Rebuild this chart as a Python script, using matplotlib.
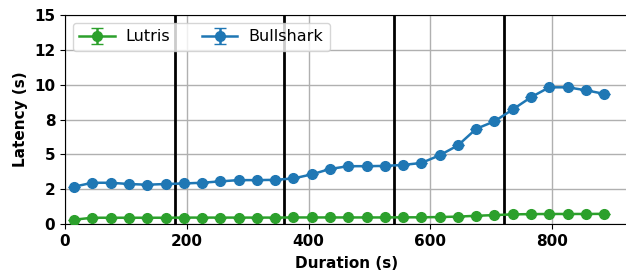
import matplotlib
matplotlib.use("Agg")
import matplotlib.pyplot as plt
from matplotlib.ticker import FormatStrFormatter

durations = [15, 45, 75, 105, 135, 165, 195, 225, 255, 285, 315, 345, 375, 405, 435,
             465, 495, 525, 555, 585, 615, 645, 675, 705, 735, 765, 795, 825, 855, 885]
lutris = [0.31, 0.45, 0.45, 0.45, 0.45, 0.45, 0.46, 0.46, 0.46, 0.46, 0.46, 0.46, 0.47, 0.47, 0.47,
          0.47, 0.47, 0.47, 0.48, 0.48, 0.50, 0.53, 0.59, 0.64, 0.69, 0.71, 0.72, 0.72, 0.72, 0.73]
bullshark = [2.68, 2.96, 2.96, 2.87, 2.82, 2.87, 2.91, 2.96, 3.06, 3.15, 3.15, 3.17, 3.27, 3.56, 3.95,
             4.15, 4.15, 4.17, 4.24, 4.38, 4.93, 5.64, 6.83, 7.37, 8.22, 9.10, 9.81, 9.81, 9.60, 9.34]
lutris_err = [0.0, 0.0, 0.0, 0.0, 0.0, 0.0, 0.0, 0.0, 0.0, 0.0, 0.0, 0.0, 0.0, 0.0, 0.0,
              0.0, 0.0, 0.0, 0.0, 0.0, 0.0, 0.0, 0.0, 0.0, 0.0, 0.0, 0.0, 0.0, 0.0, 0.0]
bullshark_err = [0.0, 0.0, 0.0, 0.0, 0.0, 0.0, 0.0, 0.0, 0.0, 0.0, 0.0, 0.0, 0.0, 0.0, 0.0,
                 0.0, 0.0, 0.0, 0.0, 0.0, 0.0, 0.0, 0.0, 0.0, 0.0, 0.0, 0.0, 0.0, 0.0, 0.0]
phase_lines = [180, 360, 540, 720]

fig = plt.figure(figsize=(6.26, 2.73), dpi=100)
ax = fig.add_axes([65/626, 1 - 224/273, 1 - 65/626 + 0.002, (224 - 15)/273])

ax.errorbar(durations, lutris, yerr=lutris_err, color="#2ca02c", marker="o",
            markersize=7, linewidth=1.8, capsize=4, label="Lutris", zorder=3)
ax.errorbar(durations, bullshark, yerr=bullshark_err, color="#1f77b4", marker="o",
            markersize=7, linewidth=1.8, capsize=4, label="Bullshark", zorder=3)
for v in phase_lines:
    ax.axvline(v, color="black", linewidth=2, zorder=2)

ax.set_xlim(0, 923)
ax.set_ylim(0, 15)
ax.set_xticks([0, 200, 400, 600, 800])
ax.set_yticks([0, 2.5, 5, 7.5, 10, 12.5, 15])
ax.yaxis.set_major_formatter(FormatStrFormatter("%.0f"))
ax.grid(True, color="#b0b0b0", linewidth=1, zorder=0)
ax.set_axisbelow(True)
for lab in ax.get_xticklabels() + ax.get_yticklabels():
    lab.set_fontweight("bold")
    lab.set_fontsize(11)
ax.set_xlabel("Duration (s)", fontsize=11, fontweight="bold", labelpad=5)
ax.set_ylabel("Latency (s)", fontsize=11, fontweight="bold")
ax.legend(loc="upper left", ncol=2, fontsize=11.5, handlelength=2.2, handletextpad=0.7,
          borderaxespad=0.5, columnspacing=2.0)

fig.savefig("out.png", dpi=100)
